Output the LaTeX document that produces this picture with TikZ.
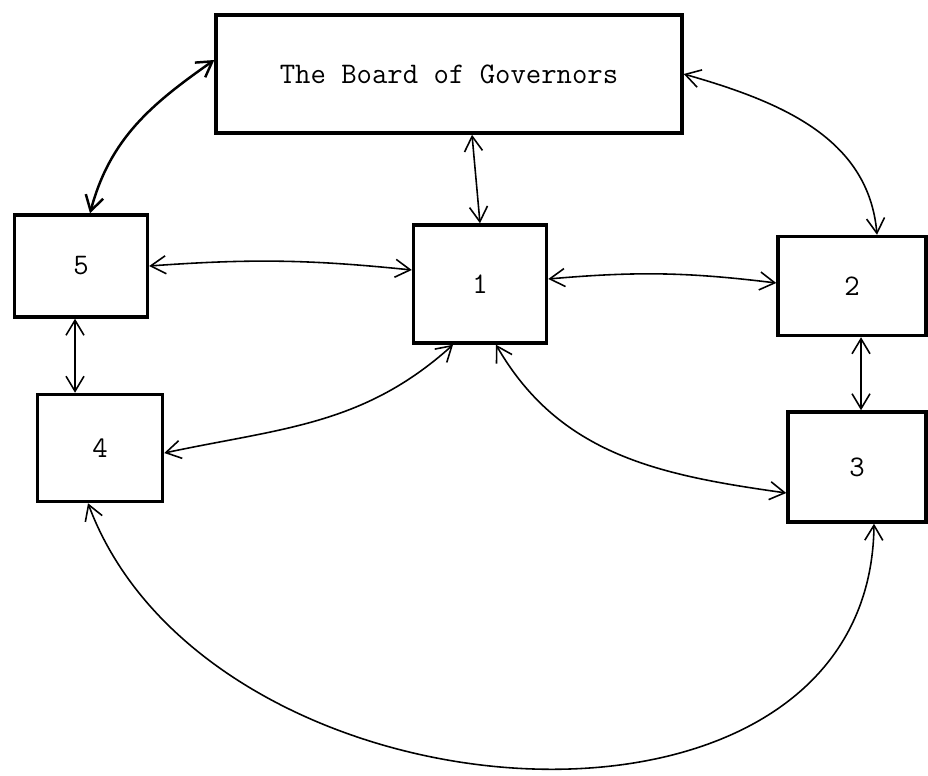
\documentclass[tikz,border=0pt]{standalone}
\usetikzlibrary{arrows.meta}
\begin{document}
\begin{tikzpicture}[x=0.02cm, y=0.02cm,
    unit/.style={draw, line width=2pt, inner sep=0pt, font=\ttfamily\fontsize{17}{20}\selectfont},
    link/.style={<->, >={Straight Barb[length=3mm,width=3.6mm]}, line width=0.9pt}]

    \useasboundingbox (0,0) rectangle (928,775);

    \node[unit, minimum width=9.32cm, minimum height=2.36cm] (board) at (449,701) {The Board of Governors};
    \node[unit, minimum width=2.66cm, minimum height=2.04cm] (five) at (81,509) {5};
    \node[unit, minimum width=2.66cm, minimum height=2.36cm] (one) at (480,491) {1};
    \node[unit, minimum width=2.96cm, minimum height=1.98cm] (two) at (852,489) {2};
    \node[unit, minimum width=2.76cm, minimum height=2.2cm] (three) at (857,308) {3};
    \node[unit, minimum width=2.5cm, minimum height=2.14cm] (four) at (100,327) {4};

    % board to the units
    \draw[link, line width=1.4pt] ([yshift=0.28cm]board.west) to[out=215,in=75] ([xshift=0.18cm]five.north);
    \draw[link] (board.east) to[out=-16,in=95] ([xshift=0.5cm]two.north);
    \draw[link] ([xshift=0.46cm]board.south) -- (one.north);

    % between the units
    \draw[link] (five.east) to[bend left=5] ([yshift=0.28cm]one.west);
    \draw[link] ([yshift=0.1cm]one.east) to[bend left=6] ([yshift=0.06cm]two.west);
    \draw[link] ([xshift=-0.12cm]five.south) -- ([xshift=-0.5cm]four.north);
    \draw[link] ([xshift=-0.54cm]one.south) to[out=222,in=12] ([yshift=-0.1cm]four.east);
    \draw[link] ([xshift=0.32cm]one.south) to[out=-60,in=172] ([yshift=-0.52cm]three.west);
    \draw[link] ([xshift=0.18cm]two.south) -- ([xshift=0.08cm]three.north);
    \draw[link] ([xshift=-0.24cm]four.south) .. controls +(122,-327) and +(-4,-352) .. ([xshift=0.34cm]three.south);
\end{tikzpicture}
\end{document}
